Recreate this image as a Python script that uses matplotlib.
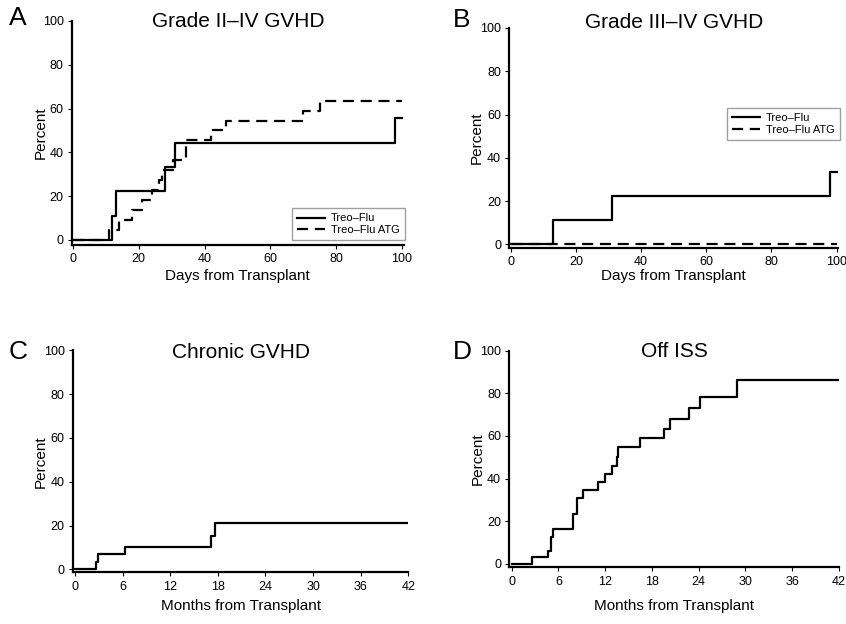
import matplotlib
matplotlib.use("Agg")
import matplotlib.pyplot as plt

plt.rcParams['font.family'] = ['Liberation Sans', 'DejaVu Sans']

# panel A - grade II-IV GVHD (days)
a_days_tf = [0, 12, 13, 28, 31, 98, 100]
a_pct_tf = [0, 11.1, 22.2, 33.3, 44.4, 55.6, 55.6]
a_days_atg = [0, 11, 14, 18, 21, 24, 26, 27, 30.5, 34.5, 42, 46.5, 70, 75, 100]
a_pct_atg = [0, 4.5, 9.1, 13.6, 18.2, 22.7, 27.3, 31.8, 36.4, 45.5, 50.0, 54.5, 59.1, 63.6, 63.6]

# panel B - grade III-IV GVHD (days)
b_days_tf = [0, 13, 31, 98, 100]
b_pct_tf = [0, 11.1, 22.2, 33.3, 33.3]
b_days_atg = [0, 100]
b_pct_atg = [0, 0]

# panel C - chronic GVHD (months)
c_months = [0, 2.65, 2.95, 6.3, 17.2, 17.6, 42]
c_pct = [0, 3.4, 6.9, 10.0, 15.4, 21.0, 21.0]

# panel D - off ISS (months)
d_months = [0, 2.65, 4.7, 5.1, 5.3, 7.9, 8.4, 9.1, 11.1, 12.0, 12.85, 13.5, 13.7,
            16.5, 19.5, 20.3, 22.7, 24.2, 28.9, 42]
d_pct = [0, 3.1, 6.2, 12.8, 16.2, 23.4, 31.0, 34.7, 38.3, 42.0, 45.9, 50.3, 55.0,
         58.9, 63.1, 67.8, 73.0, 78.4, 86.2, 86.2]

day_ticks = [0, 20, 40, 60, 80, 100]
month_ticks = [0, 6, 12, 18, 24, 30, 36, 42]
pct_ticks = [0, 20, 40, 60, 80, 100]

W, H = 846, 624
fig = plt.figure(figsize=(W / 100, H / 100), dpi=100)


def make_ax(l, r, t, b):
    return fig.add_axes([l / W, 1 - b / H, (r - l) / W, (b - t) / H])


def style(ax, xticks, xlim, ylim, xlabel, title, title_y, xlab_y, ylab_x):
    for s in ['top', 'right']:
        ax.spines[s].set_visible(False)
    for s in ['left', 'bottom']:
        ax.spines[s].set_linewidth(1.6)
    ax.set_xlim(*xlim)
    ax.set_ylim(*ylim)
    ax.set_xticks(xticks)
    ax.set_yticks(pct_ticks)
    ax.tick_params(labelsize=9, length=3, width=0.8, pad=3)
    ax.set_xlabel(xlabel, fontsize=11)
    ax.set_ylabel('Percent', fontsize=11)
    ax.xaxis.set_label_coords(0.5, xlab_y)
    ax.yaxis.set_label_coords(ylab_x, 0.5)
    ax.text(0.5, title_y, title, transform=ax.transAxes, ha='center', va='center', fontsize=15)


def add_legend(ax, anchor):
    ax.legend(loc='lower right', bbox_to_anchor=anchor, borderaxespad=0, fontsize=8,
              frameon=True, fancybox=False, edgecolor='#888888', handlelength=2.5,
              handletextpad=0.6, borderpad=0.45, labelspacing=0.15)


lw = 1.6
dash = (0, (5, 3))

axA = make_ax(72, 403.6, 21, 245)
axA.step(a_days_tf, a_pct_tf, where='post', color='black', lw=lw, label='Treo\u2013Flu')
axA.step(a_days_atg, a_pct_atg, where='post', color='black', lw=lw, linestyle=dash,
         label='Treo\u2013Flu ATG')
style(axA, day_ticks, (-0.3, 100.5), (-2.3, 100), 'Days from Transplant',
      'Grade II\u2013IV GVHD', 0.996, -0.107, -0.072)
add_legend(axA, (1.004, 0.022))

axB = make_ax(509.4, 838.3, 28, 247.5)
axB.step(b_days_tf, b_pct_tf, where='post', color='black', lw=lw, label='Treo\u2013Flu')
axB.step(b_days_atg, b_pct_atg, where='post', color='black', lw=lw, linestyle=dash,
         label='Treo\u2013Flu ATG')
style(axB, day_ticks, (-0.4, 100.5), (-1.5, 100), 'Days from Transplant',
      'Grade III\u2013IV GVHD', 1.027, -0.098, -0.077)
add_legend(axB, (1.005, 0.49))

axC = make_ax(73, 408.3, 350.3, 572.2)
axC.step(c_months, c_pct, where='post', color='black', lw=lw)
style(axC, month_ticks, (-0.25, 42), (-1.3, 100), 'Months from Transplant',
      'Chronic GVHD', 0.99, -0.121, -0.075)

axD = make_ax(509.4, 839, 350.6, 567.2)
axD.step(d_months, d_pct, where='post', color='black', lw=lw)
style(axD, month_ticks, (-0.3, 42), (-1.5, 100), 'Months from Transplant',
      'Off ISS', 0.994, -0.147, -0.074)

for letter, x, y in [('A', 18, 18), ('B', 462, 20), ('C', 18, 352), ('D', 462, 352)]:
    fig.text(x / W, 1 - y / H, letter, fontsize=19, ha='center', va='center')

fig.savefig('out.png', dpi=100)
